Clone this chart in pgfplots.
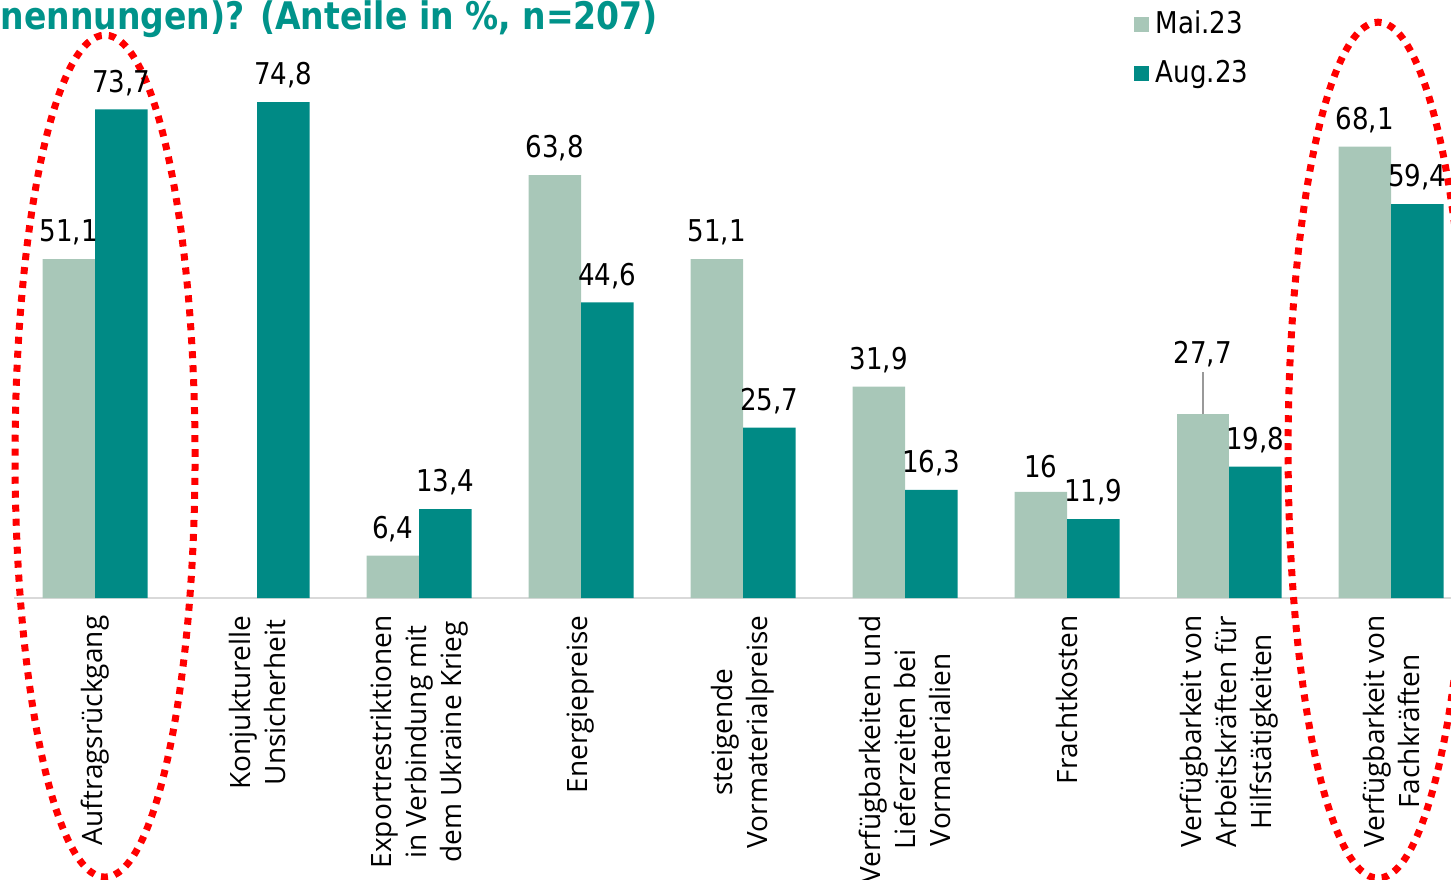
\documentclass[border=0pt]{standalone}
\usepackage{pgfplots}
\usepackage{pgfplotstable}
\pgfplotsset{compat=1.18}
\usepackage{fontspec}
\setmainfont{Open Sans}
\newfontfamily\labfont{Open Sans}
\newfontfamily\tah[FakeStretch=0.87]{DejaVu Sans}

\definecolor{maicol}{HTML}{A8C7B8}
\definecolor{augcol}{HTML}{008A85}
\definecolor{titlecol}{HTML}{00938A}

% Mai.23 (no value for "Konjukturelle Unsicherheit")
\pgfplotstableread{
x  val
0  51.1
2  6.4
3  63.8
4  51.1
5  31.9
6  16
8  68.1
}\maidata
% Mai.23, bar whose label sits higher on a leader line
\pgfplotstableread{
x  val
7  27.7
}\mairaised

% Aug.23
\pgfplotstableread{
x  val
0  73.7
1  74.8
2  13.4
3  44.6
4  25.7
5  16.3
6  11.9
7  19.8
8  59.4
}\augdata

\begin{document}
\begin{tikzpicture}
\begin{axis}[
    scale only axis,
    width=431.1pt, height=179.4pt,
    xmin=-0.5, xmax=8.370,
    ymin=0, ymax=90.2,
    clip=false,
    hide y axis,
    axis x line=bottom,
    x axis line style={-, draw=black!15, line width=0.8pt},
    major tick length=0pt,
    xtick={0,...,8},
    xticklabels={
        Auftragsrückgang,
        Konjukturelle\\Unsicherheit,
        Exportrestriktionen\\in Verbindung mit\\dem Ukraine Krieg,
        Energiepreise,
        steigende\\Vormaterialpreise,
        Verfügbarkeiten und\\Lieferzeiten bei\\Vormaterialien,
        Frachtkosten,
        Verfügbarkeit von\\Arbeitskräften für\\Hilfstätigkeiten,
        Verfügbarkeit von\\Fachkräften
    },
    xticklabel style={rotate=90, anchor=east, align=center,
        inner sep=0pt, inner xsep=5.1pt,
        font=\labfont\fontsize{8.4}{10.5}\selectfont, text=black},
    ybar, bar width=15.75pt,
    /pgf/number format/.cd, use comma, assume math mode=true, /pgfplots/.cd,
    nodes near coords,
    nodes near coords style={font=\tah\fontsize{9}{10}\selectfont, text=black,
        yshift=0.6pt},
    legend style={at={(0.779,0.995)}, anchor=north west, draw=none, fill=none,
        font=\tah\fontsize{9}{10}\selectfont, row sep=2.6pt,
        inner sep=0pt},
    legend cell align=left,
    legend image code/.code={\fill[#1, draw=none] (0pt,-2.25pt) rectangle (4.5pt,2.25pt);},
]
\addplot[fill=maicol, draw=none, bar shift=-7.875pt]
    table[x=x, y=val] {\maidata};
\addlegendentry{Mai.23}
\addplot[fill=augcol, draw=none, bar shift=7.875pt]
    table[x=x, y=val] {\augdata};
\addlegendentry{Aug.23}
\addplot[fill=maicol, draw=none, bar shift=-7.875pt, forget plot,
    nodes near coords style={yshift=10.2pt}]
    table[x=x, y=val] {\mairaised};

% leader line of the raised label 27,7
\draw[black!40, line width=0.6pt] (axis cs:6.838,27.7) -- ++(0pt,12.6pt);

% red dotted ellipses
\draw[red, line width=2.1pt, dash pattern=on 2.1pt off 2.1pt]
    (axis cs:0.062,21.4) ellipse [x radius=27pt, y radius=126.3pt];
\draw[red, line width=2.1pt, dash pattern=on 2.1pt off 2.1pt]
    (axis cs:7.92,22.3) ellipse [x radius=27pt, y radius=128.4pt];

% title (cut off like the source)
\node[anchor=base west, inner sep=0pt, text=titlecol,
      font=\tah\bfseries\fontsize{11.4}{13}\selectfont]
    at ([xshift=-4.2pt, yshift=-9pt]rel axis cs:0,1)
    {nennungen)? (Anteile in \%, n=207)};

\coordinate (BL) at (rel axis cs:0,0);
\coordinate (TR) at (rel axis cs:1,1);
\end{axis}
\pgfresetboundingbox
\path[use as bounding box] ([xshift=-4.2pt, yshift=-84.3pt]BL) rectangle (TR);
\end{tikzpicture}
\end{document}
